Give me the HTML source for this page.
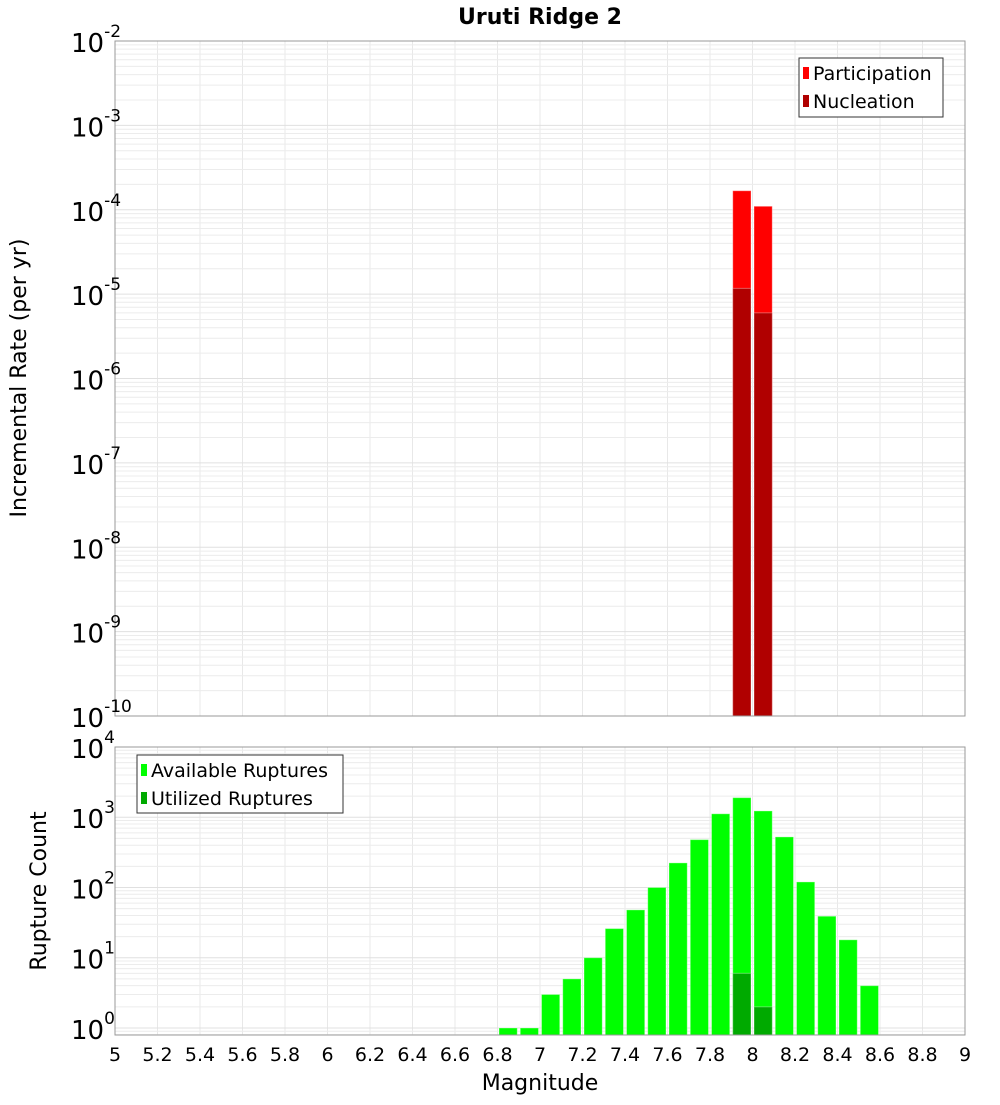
<!DOCTYPE html>
<html><head><meta charset="utf-8"><style>
body{margin:0;background:#fff;font-family:"Liberation Sans","DejaVu Sans",sans-serif}
svg text{font-family:"DejaVu Sans","Liberation Sans",sans-serif}
</style></head><body>
<svg id="c" width="1000" height="1100" xmlns="http://www.w3.org/2000/svg"></svg>
<script>
const binCenters=[6.85,6.95,7.05,7.15,7.25,7.35,7.45,7.55,7.65,7.75,7.85,7.95,8.05,8.15,8.25,8.35,8.45,8.55];
const availableCounts=[1,1,3,5,10,26,48,100,224,480,1120,1900,1230,525,120,39,18,4];
const utilizedBins=[7.95,8.05];
const utilizedCounts=[6,2];
const rateBins=[7.95,8.05];
const participationRates=[1.68e-4,1.1e-4];
const nucleationRates=[1.17e-5,6e-6];
const xTicks=[5,5.2,5.4,5.6,5.8,6,6.2,6.4,6.6,6.8,7,7.2,7.4,7.6,7.8,8,8.2,8.4,8.6,8.8,9];
const topExps=[-2,-3,-4,-5,-6,-7,-8,-9,-10];
const botExps=[4,3,2,1,0];

const NS='http://www.w3.org/2000/svg';
const svg=document.getElementById('c');
function el(tag,attrs,parent){const e=document.createElementNS(NS,tag);for(const k in attrs)e.setAttribute(k,attrs[k]);(parent||svg).appendChild(e);return e;}
const X0=115,X1=965;
const x=v=>X0+(v-5)/4*(X1-X0);
const T={top:41,bot:716,min:-10,max:-2};
const B={top:747,bot:1035,min:-0.1,max:4};
const yT=v=>T.bot-(Math.log10(v)-T.min)/(T.max-T.min)*(T.bot-T.top);
const yB=v=>B.bot-(Math.log10(v)-B.min)/(B.max-B.min)*(B.bot-B.top);

function panel(P,yf,name){
  const g=el('g',{});
  
  
  for(const t of xTicks){el('line',{x1:x(t),x2:x(t),y1:P.top,y2:P.bot,stroke:'#e8e8e8','stroke-width':1},g);}
  for(let d=Math.floor(P.min);d<P.max;d++){for(let m=1;m<10;m++){const v=m*Math.pow(10,d);const lv=Math.log10(v);if(lv<P.min||lv>P.max)continue;const yy=yf(v);el('line',{x1:X0,x2:X1,y1:yy,y2:yy,stroke:m==1?'#e0e0e0':'#ececec','stroke-width':1},g);}}
}
panel(T,yT,'top');panel(B,yB,'bottom');

function bar(xc,val,yf,P,fill,name){
  const r=el('rect',{x:x(xc-0.05)+1.5,width:x(0.1)-x(0)-3,y:yf(val),height:P.bot-yf(val),fill:fill,stroke:'rgba(255,255,255,0.35)','stroke-width':1});
  
  
}
rateBins.forEach((b,i)=>bar(b,participationRates[i],yT,T,'#ff0000','participation-bar'));
rateBins.forEach((b,i)=>bar(b,nucleationRates[i],yT,T,'#b00000','nucleation-bar'));
binCenters.forEach((b,i)=>bar(b,availableCounts[i],yB,B,'#00ff00','available-bar'));
utilizedBins.forEach((b,i)=>bar(b,utilizedCounts[i],yB,B,'#00aa00','utilized-bar'));

for(const P of [T,B]){const f=el('rect',{x:X0,y:P.top,width:X1-X0,height:P.bot-P.top,fill:'none',stroke:'#999','stroke-width':1});}

topExps.forEach(e=>{const yy=yT(Math.pow(10,e));const t=el('text',{x:71,y:yy+11,'font-size':26,fill:'#000'});t.innerHTML='10<tspan dy="-15" font-size="17">'+e+'</tspan>';});
botExps.forEach(e=>{const yy=yB(Math.pow(10,e));const t=el('text',{x:71,y:yy+11,'font-size':26,fill:'#000'});t.innerHTML='10<tspan dy="-15" font-size="17">'+e+'</tspan>';});
xTicks.forEach(v=>{const t=el('text',{x:x(v),y:1061,'text-anchor':'middle','font-size':19,fill:'#000'});t.textContent=String(v);});

function txt(s,attrs,name){const t=el('text',attrs);t.textContent=s;return t;}
txt('Uruti Ridge 2',{x:540,y:24,'text-anchor':'middle','font-size':22,'font-weight':'bold'},'chart-title');
txt('Magnitude',{x:540,y:1090,'text-anchor':'middle','font-size':22},'x-axis-title');
txt('Incremental Rate (per yr)',{x:26,y:378,'text-anchor':'middle','font-size':22,transform:'rotate(-90 26 378)'},'top-y-axis-title');
txt('Rupture Count',{x:46,y:891,'text-anchor':'middle','font-size':22,transform:'rotate(-90 46 891)'},'bottom-y-axis-title');

function legend(x0,y0,w,h,items,name){
  const g=el('g',{});
  el('rect',{x:x0,y:y0,width:w,height:h,fill:'#fff',stroke:'#333','stroke-width':1},g);
  items.forEach((it,i)=>{const cy=y0+15+i*28;el('rect',{x:x0+4,y:cy-6,width:6,height:12,fill:it[1]},g);const t=el('text',{x:x0+14,y:cy+7,'font-size':19},g);t.textContent=it[0];});
}
legend(799,58,144,59,[['Participation','#ff0000'],['Nucleation','#b00000']],'top-legend');
legend(137,755,206,58,[['Available Ruptures','#00ff00'],['Utilized Ruptures','#00aa00']],'bottom-legend');
</script>
</body></html>
